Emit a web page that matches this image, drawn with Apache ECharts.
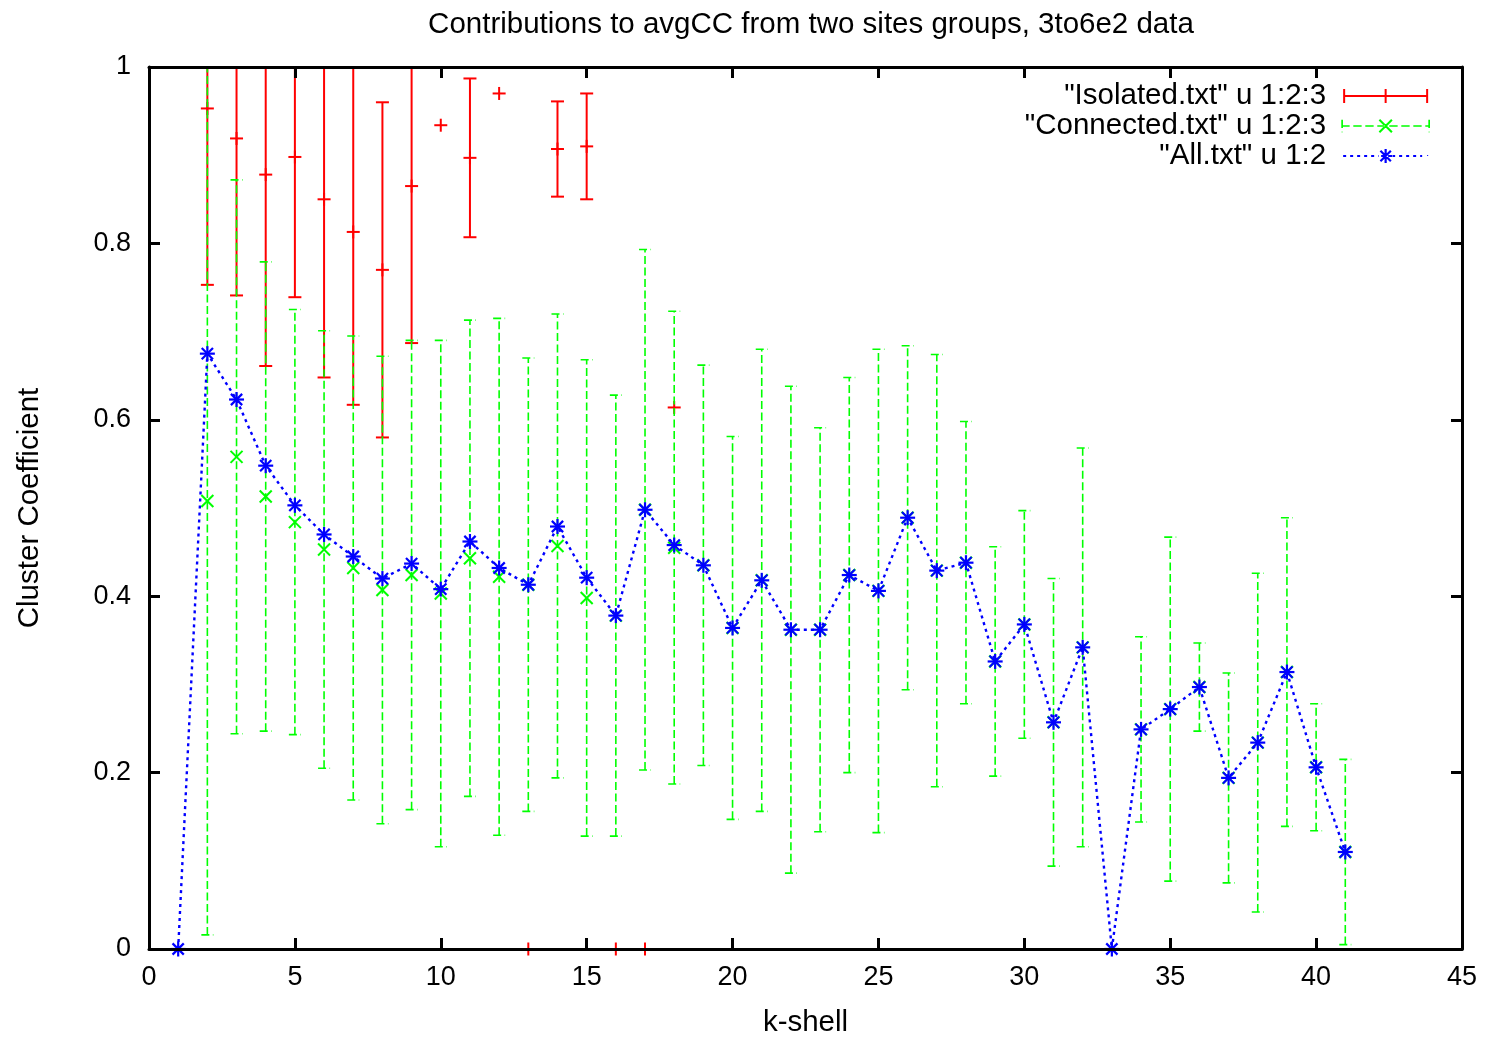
<!DOCTYPE html>
<html>
<head>
<meta charset="utf-8">
<title>Contributions to avgCC</title>
<script src="https://cdn.jsdelivr.net/npm/echarts@6/dist/echarts.min.js"></script>
<style>
  html, body { margin: 0; padding: 0; background: #fff; }
  #chart { width: 1490px; height: 1038px; }
</style>
</head>
<body>
<div id="chart"></div>
<script>
// k-shell index, mean cluster coefficient and error half-width per group
const isoK    = [2, 3, 4, 5, 6, 7, 8, 9, 10, 11, 12, 13, 14, 15, 16, 17, 18];
const isoMean = [0.953, 0.919, 0.878, 0.898, 0.850, 0.813, 0.770, 0.865, 0.934, 0.897, 0.970, 0, 0.907, 0.910, 0, 0, 0.614];
const isoErr  = [0.200, 0.178, 0.217, 0.159, 0.202, 0.196, 0.190, 0.178, 0, 0.090, 0, 0, 0.054, 0.060, 0, 0, 0];

const connK    = [2, 3, 4, 5, 6, 7, 8, 9, 10, 11, 12, 13, 14, 15, 16, 17, 18, 19, 20, 21, 22, 23, 24, 25, 26, 27, 28, 29, 30, 31, 32,
                  34, 35, 36, 37, 38, 39, 40, 41];
const connMean = [0.508, 0.558, 0.513, 0.484, 0.453, 0.432, 0.407, 0.424, 0.403, 0.443, 0.422, 0.413, 0.457, 0.398, 0.378, 0.498,
                  0.455, 0.435, 0.364, 0.418, 0.362, 0.362, 0.424, 0.406, 0.489, 0.429, 0.438, 0.326, 0.368, 0.257, 0.342,
                  0.249, 0.272, 0.297, 0.194, 0.234, 0.314, 0.206, 0.110];
const connErr  = [0.492, 0.314, 0.266, 0.241, 0.248, 0.263, 0.265, 0.266, 0.287, 0.270, 0.293, 0.257, 0.263, 0.270, 0.250, 0.295,
                  0.268, 0.227, 0.217, 0.262, 0.276, 0.229, 0.224, 0.274, 0.195, 0.245, 0.160, 0.130, 0.129, 0.163, 0.226,
                  0.105, 0.195, 0.050, 0.119, 0.192, 0.175, 0.072, 0.105];

const allK    = [1, 2, 3, 4, 5, 6, 7, 8, 9, 10, 11, 12, 13, 14, 15, 16, 17, 18, 19, 20, 21, 22, 23, 24, 25, 26, 27, 28, 29, 30,
                 31, 32, 33, 34, 35, 36, 37, 38, 39, 40, 41];
const allMean = [0, 0.675, 0.623, 0.548, 0.503, 0.470, 0.445, 0.420, 0.437, 0.408, 0.462, 0.432, 0.413, 0.479, 0.421, 0.378,
                 0.498, 0.458, 0.435, 0.364, 0.418, 0.362, 0.362, 0.424, 0.406, 0.489, 0.429, 0.438, 0.326, 0.368,
                 0.257, 0.342, 0, 0.249, 0.272, 0.297, 0.194, 0.234, 0.314, 0.206, 0.110];

const xTicks = { min: 0, max: 45, interval: 5 };
const yTicks = { min: 0, max: 1, interval: 0.2 };

const NAME_ISO  = '"Isolated.txt" u 1:2:3';
const NAME_CONN = '"Connected.txt" u 1:2:3';
const NAME_ALL  = '"All.txt" u 1:2';

const RED = '#ff0000', GREEN = '#00ff00', BLUE = '#0000ff';
const FONT = 'Liberation Sans, Arial, Helvetica, sans-serif';
const FS_TEXT = 29.5;   // title, legend, axis names
const FS_TICK = 27;     // tick labels

const zip3 = (a, b, c) => a.map((v, i) => [v, b[i], c[i]]);

// marker glyphs drawn as stroked segments around a centre point
function plusMarker(c, r, style) {
  return [
    { type: 'line', shape: { x1: c[0] - r, y1: c[1], x2: c[0] + r, y2: c[1] }, style },
    { type: 'line', shape: { x1: c[0], y1: c[1] - r, x2: c[0], y2: c[1] + r }, style }
  ];
}
function crossMarker(c, r, style) {
  return [
    { type: 'line', shape: { x1: c[0] - r, y1: c[1] - r, x2: c[0] + r, y2: c[1] + r }, style },
    { type: 'line', shape: { x1: c[0] - r, y1: c[1] + r, x2: c[0] + r, y2: c[1] - r }, style }
  ];
}
function starMarker(c, r, style) {
  return plusMarker(c, r, style).concat(crossMarker(c, r * 0.75, style));
}

// vertical error bar with end caps, clipped to the plotting area
function errorBarRenderer(barStyle, capHalf, markerFn) {
  return function (params, api) {
    const x = api.value(0), m = api.value(1), e = api.value(2);
    const cs = params.coordSys;
    const top = cs.y, bottom = cs.y + cs.height;
    const pMid = api.coord([x, m]);
    const pLo = api.coord([x, m - e]);
    const pHi = api.coord([x, m + e]);
    const clampY = (y) => Math.min(Math.max(y, top), bottom);
    const children = [];
    if (e > 0) {
      children.push({ type: 'line', shape: { x1: pMid[0], y1: clampY(pLo[1]), x2: pMid[0], y2: clampY(pHi[1]) }, style: barStyle });
      [pLo, pHi].forEach((p) => {
        if (p[1] >= top - 0.5 && p[1] <= bottom + 0.5) {
          children.push({ type: 'line', shape: { x1: p[0] - capHalf, y1: p[1], x2: p[0] + capHalf, y2: p[1] }, style: barStyle });
        }
      });
    }
    return { type: 'group', children: children.concat(markerFn(pMid)) };
  };
}

function markerRenderer(markerFn) {
  return function (params, api) {
    const p = api.coord([api.value(0), api.value(1)]);
    return { type: 'group', children: markerFn(p) };
  };
}

// legend sample glyphs, built from thin filled rectangles / polygons
function rect(x, y, w, h) { return `M${x} ${y}h${w}v${h}h${-w}Z`; }
function seg(x1, y1, x2, y2, t) {
  const dx = x2 - x1, dy = y2 - y1, L = Math.hypot(dx, dy);
  const nx = -dy / L * t / 2, ny = dx / L * t / 2;
  return `M${x1 + nx} ${y1 + ny}L${x2 + nx} ${y2 + ny}L${x2 - nx} ${y2 - ny}L${x1 - nx} ${y1 - ny}Z`;
}
function dashedH(x0, x1, y, t, on, off) {
  let s = '';
  for (let x = x0; x < x1; x += on + off) s += rect(x, y - t / 2, Math.min(on, x1 - x), t);
  return s;
}
function dashedV(x, y0, y1, t, on, off) {
  let s = '';
  for (let y = y0; y < y1; y += on + off) s += rect(x - t / 2, y, t, Math.min(on, y1 - y));
  return s;
}
const W = 85, H = 14, MID = 42.5;
const iconIso = 'path://' + rect(0, 6, W, 2) + rect(0, 0, 2, H) + rect(MID - 1, 0, 2, H) + rect(W - 2, 0, 2, H);
const iconConn = 'path://' + dashedH(0, W, 7, 1.6, 8, 3.5) + dashedV(0.8, 1, 13, 1.6, 8, 3.5) + dashedV(W - 0.8, 1, 13, 1.6, 8, 3.5)
  + seg(MID - 6, 1, MID + 6, 13, 2) + seg(MID - 6, 13, MID + 6, 1, 2);
const iconAll = 'path://' + dashedH(0, W - 6, 7, 2.2, 3, 4) + rect(W - 1, 6, 1, 1)
  + seg(MID, 0, MID, H, 2.2) + seg(MID - 7, 7, MID + 7, 7, 2.2)
  + seg(MID - 5.2, 1.8, MID + 5.2, 12.2, 2.2) + seg(MID - 5.2, 12.2, MID + 5.2, 1.8, 2.2);

const isoStyle  = { stroke: RED, lineWidth: 2 };
const connStyle = { stroke: GREEN, lineWidth: 1.6, lineDash: [8, 3.5] };
const connMarkStyle = { stroke: GREEN, lineWidth: 2 };
const allMarkStyle  = { stroke: BLUE, lineWidth: 2.2 };

function axisCommon(extra) {
  return Object.assign({
    axisLine: { show: true, onZero: false, lineStyle: { color: '#000', width: 3 } },
    axisTick: { show: true, inside: true, length: 11, lineStyle: { color: '#000', width: 3 } },
    splitLine: { show: false },
    axisLabel: { color: '#000', fontSize: FS_TICK, fontFamily: FONT },
    nameTextStyle: { color: '#000', fontSize: FS_TEXT, fontFamily: FONT },
    z: 5
  }, extra);
}

const chart = echarts.init(document.getElementById('chart'), null, { renderer: 'canvas' });

chart.setOption({
  animation: false,
  backgroundColor: '#fff',
  title: {
    text: 'Contributions to avgCC from two sites groups, 3to6e2 data',
    left: 806, top: 5, textAlign: 'center',
    textStyle: { color: '#000', fontSize: FS_TEXT, fontWeight: 'normal', fontFamily: FONT }
  },
  grid: { left: 149, right: 28, top: 67, bottom: 89, containLabel: false, outerBoundsMode: 'none' },
  legend: {
    orient: 'vertical', align: 'right',
    right: 60, top: 81, padding: 0, itemGap: 0,
    itemWidth: W + 24, itemHeight: H,
    textStyle: { color: '#000', fontSize: FS_TEXT, fontFamily: FONT, lineHeight: 28 },
    selectedMode: false,
    data: [
      { name: NAME_ISO, icon: iconIso, itemStyle: { color: RED, borderWidth: 0 } },
      { name: NAME_CONN, icon: iconConn, itemStyle: { color: GREEN, borderWidth: 0 } },
      { name: NAME_ALL, icon: iconAll, itemStyle: { color: BLUE, borderWidth: 0 } }
    ]
  },
  xAxis: [
    axisCommon(Object.assign({ type: 'value', position: 'bottom', name: 'k-shell', nameLocation: 'middle', nameGap: 59,
      axisLabel: { color: '#000', fontSize: FS_TICK, fontFamily: FONT, margin: 15 } }, xTicks)),
    axisCommon(Object.assign({ type: 'value', position: 'top', axisLabel: { show: false } }, xTicks))
  ],
  yAxis: [
    axisCommon(Object.assign({ type: 'value', position: 'left', name: 'Cluster Coefficient', nameLocation: 'middle', nameGap: 104,
      axisLabel: { color: '#000', fontSize: FS_TICK, fontFamily: FONT, margin: 18 } }, yTicks)),
    axisCommon(Object.assign({ type: 'value', position: 'right', axisLabel: { show: false } }, yTicks))
  ],
  series: [
    {
      name: NAME_ISO, type: 'custom', xAxisIndex: 0, yAxisIndex: 0, clip: false,
      itemStyle: { color: RED },
      data: zip3(isoK, isoMean, isoErr),
      renderItem: errorBarRenderer(isoStyle, 6.5, (p) => plusMarker(p, 6.5, isoStyle))
    },
    {
      name: NAME_CONN, type: 'custom', xAxisIndex: 0, yAxisIndex: 0, clip: false,
      itemStyle: { color: GREEN },
      data: zip3(connK, connMean, connErr),
      renderItem: errorBarRenderer(connStyle, 6, (p) => crossMarker(p, 6, connMarkStyle))
    },
    {
      name: NAME_ALL, type: 'line', xAxisIndex: 0, yAxisIndex: 0,
      symbol: 'none', color: BLUE,
      lineStyle: { color: BLUE, width: 2.4, type: [3, 4] },
      data: allK.map((k, i) => [k, allMean[i]])
    },
    {
      name: NAME_ALL, type: 'custom', xAxisIndex: 0, yAxisIndex: 0, clip: false,
      itemStyle: { color: BLUE },
      data: allK.map((k, i) => [k, allMean[i]]),
      renderItem: markerRenderer((p) => starMarker(p, 7.5, allMarkStyle))
    }
  ]
});
</script>
</body>
</html>
